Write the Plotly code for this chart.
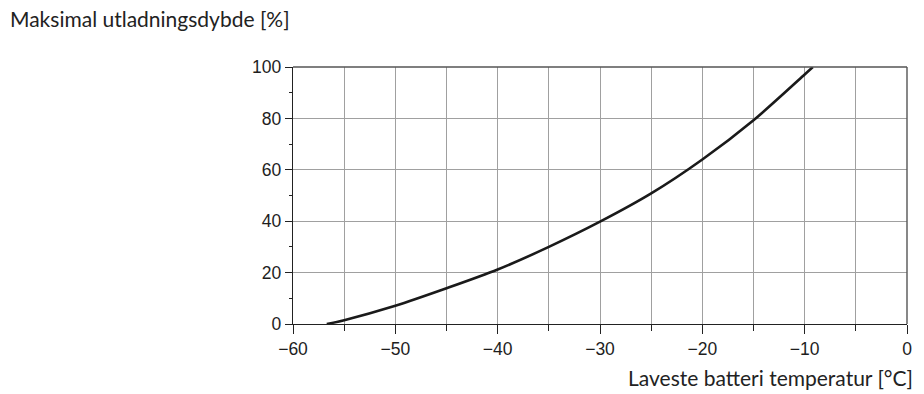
import plotly.graph_objects as go

# Lowest battery temperature [°C] vs. maximum depth of discharge [%]
temperature = [-56.7, -55, -50, -45, -40, -35, -30, -25, -20, -15, -10, -9.2]
depth = [0, 1.5, 7.1, 13.9, 21.2, 30.0, 39.8, 50.8, 64.0, 79.3, 97.1, 100]

x_ticks = [-60, -50, -40, -30, -20, -10, 0]
x_labels = ["\u221260", "\u221250", "\u221240", "\u221230", "\u221220", "\u221210", "0"]
y_ticks = [0, 20, 40, 60, 80, 100]

fig = go.Figure()
fig.add_trace(go.Scatter(
    x=temperature, y=depth, mode="lines",
    line=dict(color="#1a1a1a", width=2.6, shape="spline", smoothing=0.8),
    hoverinfo="skip", showlegend=False,
))

grid = "#a0a0a0"
tick_font = dict(family="Liberation Sans, Arial, sans-serif", size=17.5, color="#1e1e1e")
fig.update_xaxes(
    range=[-60, 0], tickvals=x_ticks, ticktext=x_labels,
    ticks="outside", ticklen=9, tickwidth=1.2, tickcolor="#222",
    showline=True, linecolor="#222", linewidth=1.4,
    showgrid=True, gridcolor=grid, gridwidth=1.2, zeroline=False,
    minor=dict(dtick=5, tick0=-60, ticks="outside", ticklen=6, tickwidth=1.2,
               tickcolor="#222", showgrid=True, gridcolor=grid, gridwidth=1.2),
    tickfont=tick_font,
)
fig.update_yaxes(
    range=[0, 100], tickvals=y_ticks,
    ticks="outside", ticklen=7, tickwidth=1.2, tickcolor="#222",
    showline=True, linecolor="#222", linewidth=1.4,
    showgrid=True, gridcolor=grid, gridwidth=1.2, zeroline=False,
    minor=dict(dtick=10, tick0=0, ticks="outside", ticklen=3, tickwidth=1.2,
               tickcolor="#222", showgrid=False),
    tickfont=tick_font,
)

# top and right frame lines
fig.add_shape(type="line", xref="paper", yref="paper", x0=0, x1=1, y0=1, y1=1,
              line=dict(color="#555", width=1.4))
fig.add_shape(type="line", xref="paper", yref="paper", x0=1, x1=1, y0=0, y1=1,
              line=dict(color="#555", width=1.4))

label_font = dict(family="Lato, Open Sans, sans-serif", size=21, color="#222")
fig.add_annotation(text="Maksimal utladningsdybde [%]", xref="paper", yref="paper",
                   x=-286 / 617, y=1 + 49 / 257, xanchor="left", yanchor="middle",
                   showarrow=False, font=label_font)
fig.add_annotation(text="Laveste batteri temperatur [\u00b0C]", xref="paper", yref="paper",
                   x=1 + 8 / 617, y=-53 / 257, xanchor="right", yanchor="middle",
                   showarrow=False, font=label_font)

fig.update_layout(
    width=924, height=394,
    margin=dict(l=293, r=14, t=67, b=70),
    plot_bgcolor="white", paper_bgcolor="white",
)

fig.write_html("out.html")
